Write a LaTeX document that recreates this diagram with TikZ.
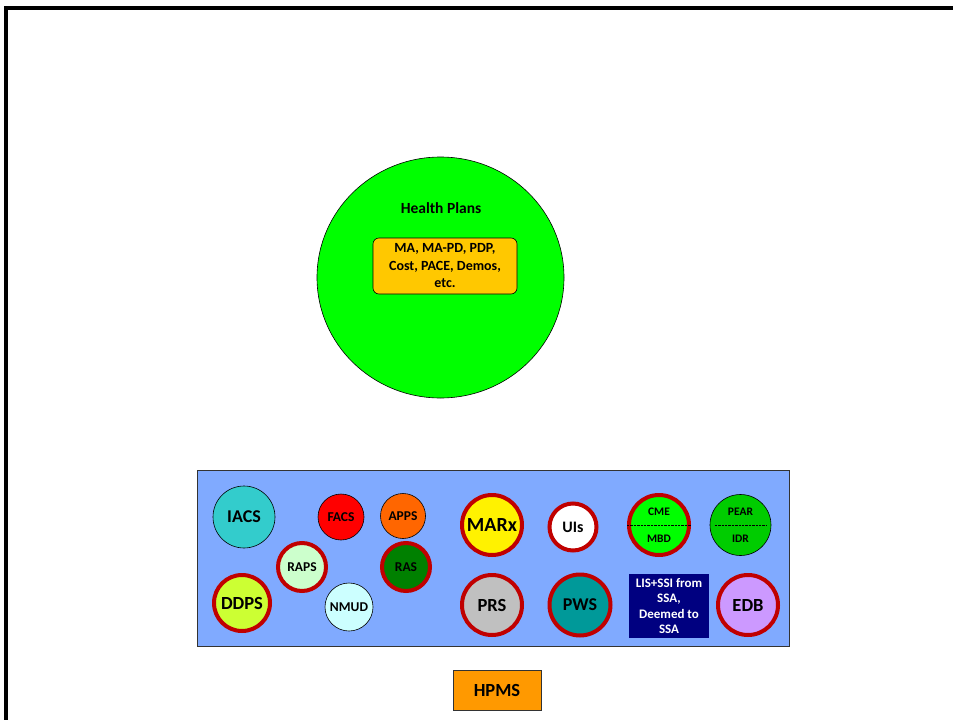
\documentclass[tikz,border=0pt]{standalone}
\usepackage{fontspec}
\usetikzlibrary{shapes.geometric}
\setmainfont{Carlito}
\definecolor{redring}{RGB}{192,0,0}
\definecolor{panelblue}{RGB}{128,170,255}
\definecolor{bigGreen}{RGB}{0,255,0}
\definecolor{goldbox}{RGB}{255,200,0}
\definecolor{iacscol}{RGB}{51,204,204}
\definecolor{appscol}{RGB}{255,102,0}
\definecolor{rapscol}{RGB}{204,255,204}
\definecolor{rascol}{RGB}{0,128,0}
\definecolor{ddpscol}{RGB}{204,255,51}
\definecolor{nmudcol}{RGB}{204,255,255}
\definecolor{pearcol}{RGB}{0,204,0}
\definecolor{prscol}{RGB}{192,192,192}
\definecolor{pwscol}{RGB}{0,153,153}
\definecolor{edbcol}{RGB}{204,153,255}
\definecolor{liscol}{RGB}{0,0,128}
\definecolor{hpmscol}{RGB}{255,153,0}
\tikzset{
  sys/.style={circle,inner sep=0pt,draw=black,line width=0.6pt,font=\bfseries},
  ring/.style={circle,inner sep=0pt,draw=redring,line width=4pt,font=\bfseries},
  sep/.style={line width=0.9pt,dash pattern=on 2.4pt off 1pt},
}
\begin{document}
\begin{tikzpicture}[x=1pt,y=-1pt]
\useasboundingbox (0,0) rectangle (953,720);
% frame
\coordinate (fbl) at (6,725);
\coordinate (ftl) at (6,8);
\coordinate (ftr) at (960,8);
\draw[line width=3.2pt] (fbl) -- (ftl) -- (ftr);
% health plans
\node[ellipse,draw=black,line width=0.6pt,fill=bigGreen,minimum width=247pt,minimum height=241pt,inner sep=0pt] (hp) at (440.5,277.5) {};
\node[font=\fontsize{15.5}{18}\selectfont\bfseries] (hpT) at (441,208) {Health Plans};
\node[draw=black,line width=0.6pt,fill=goldbox,rounded corners=6pt,minimum width=144pt,minimum height=56pt,align=center,inner sep=0pt,font=\fontsize{14}{17.5}\selectfont\bfseries] (plans) at (445,266) {MA, MA-PD, PDP,\\Cost, PACE, Demos,\\etc.};
% panel
\node[draw=black!80,line width=0.8pt,fill=panelblue,minimum width=592pt,minimum height=176pt,inner sep=0pt] (panel) at (493,558) {};
% circles
\node[sys,fill=iacscol,minimum size=62pt,font=\fontsize{18}{20}\selectfont\bfseries] (iacs) at (244,517) {IACS};
\node[sys,fill=red,minimum size=46pt,font=\fontsize{13.5}{15}\selectfont\bfseries] (facs) at (341,517) {FACS};
\node[sys,fill=appscol,minimum size=45pt,font=\fontsize{13.5}{15}\selectfont\bfseries] (apps) at (403,516) {APPS};
\node[ring,fill=rapscol,minimum size=48pt,font=\fontsize{13.5}{15}\selectfont\bfseries] (raps) at (302,567) {RAPS};
\node[ring,fill=rascol,minimum size=48pt,font=\fontsize{13.5}{15}\selectfont\bfseries] (ras) at (406,567) {RAS};
\node[ring,fill=ddpscol,minimum size=56pt,font=\fontsize{18.5}{21}\selectfont\bfseries] (ddps) at (242,603) {DDPS};
\node[sys,fill=nmudcol,minimum size=48pt,font=\fontsize{13.5}{15}\selectfont\bfseries] (nmud) at (349,607) {NMUD};
\node[ring,fill=yellow,minimum size=60pt,font=\fontsize{20}{23}\selectfont\bfseries] (marx) at (492,525) {MARx};
\node[ring,fill=white,minimum size=47pt,font=\fontsize{16}{19}\selectfont\bfseries] (uis) at (573,527) {UIs};
\node[ring,fill=bigGreen,minimum size=60pt] (cme) at (659,525) {};
\node[sys,fill=pearcol,minimum size=61pt] (pear) at (740.5,525) {};
\node[ring,fill=prscol,minimum size=60pt,font=\fontsize{18.5}{21}\selectfont\bfseries] (prs) at (492,605) {PRS};
\node[ring,fill=pwscol,minimum size=61pt,font=\fontsize{18}{20}\selectfont\bfseries] (pws) at (580,605) {PWS};
\node[ring,fill=edbcol,minimum size=60pt,font=\fontsize{18.5}{21}\selectfont\bfseries] (edb) at (748,605) {EDB};
% split labels
\draw[sep] (cme.west) -- (cme.east);
\draw[sep,shorten <=5pt,shorten >=5pt] (pear.west) -- (pear.east);
\node[font=\fontsize{11.5}{13}\selectfont\bfseries] (cmeT) at (659,512) {CME};
\node[font=\fontsize{11.5}{13}\selectfont\bfseries] (mbdT) at (659,539) {MBD};
\node[font=\fontsize{11.5}{13}\selectfont\bfseries] (pearT) at (740.5,512) {PEAR};
\node[font=\fontsize{11.5}{13}\selectfont\bfseries] (idrT) at (740.5,539) {IDR};
% LIS box
\node[fill=liscol,text=white,minimum width=80pt,minimum height=64pt,inner sep=0pt,align=center,font=\fontsize{13}{15.5}\selectfont\bfseries] (lis) at (669,606) {LIS+SSI from\\SSA,\\Deemed to\\SSA};
% HPMS
\node[draw=black!80,line width=0.6pt,fill=hpmscol,minimum width=88pt,minimum height=40pt,inner sep=0pt,font=\fontsize{18.5}{21}\selectfont\bfseries] (hpms) at (497,690) {HPMS};
\end{tikzpicture}
\end{document}
